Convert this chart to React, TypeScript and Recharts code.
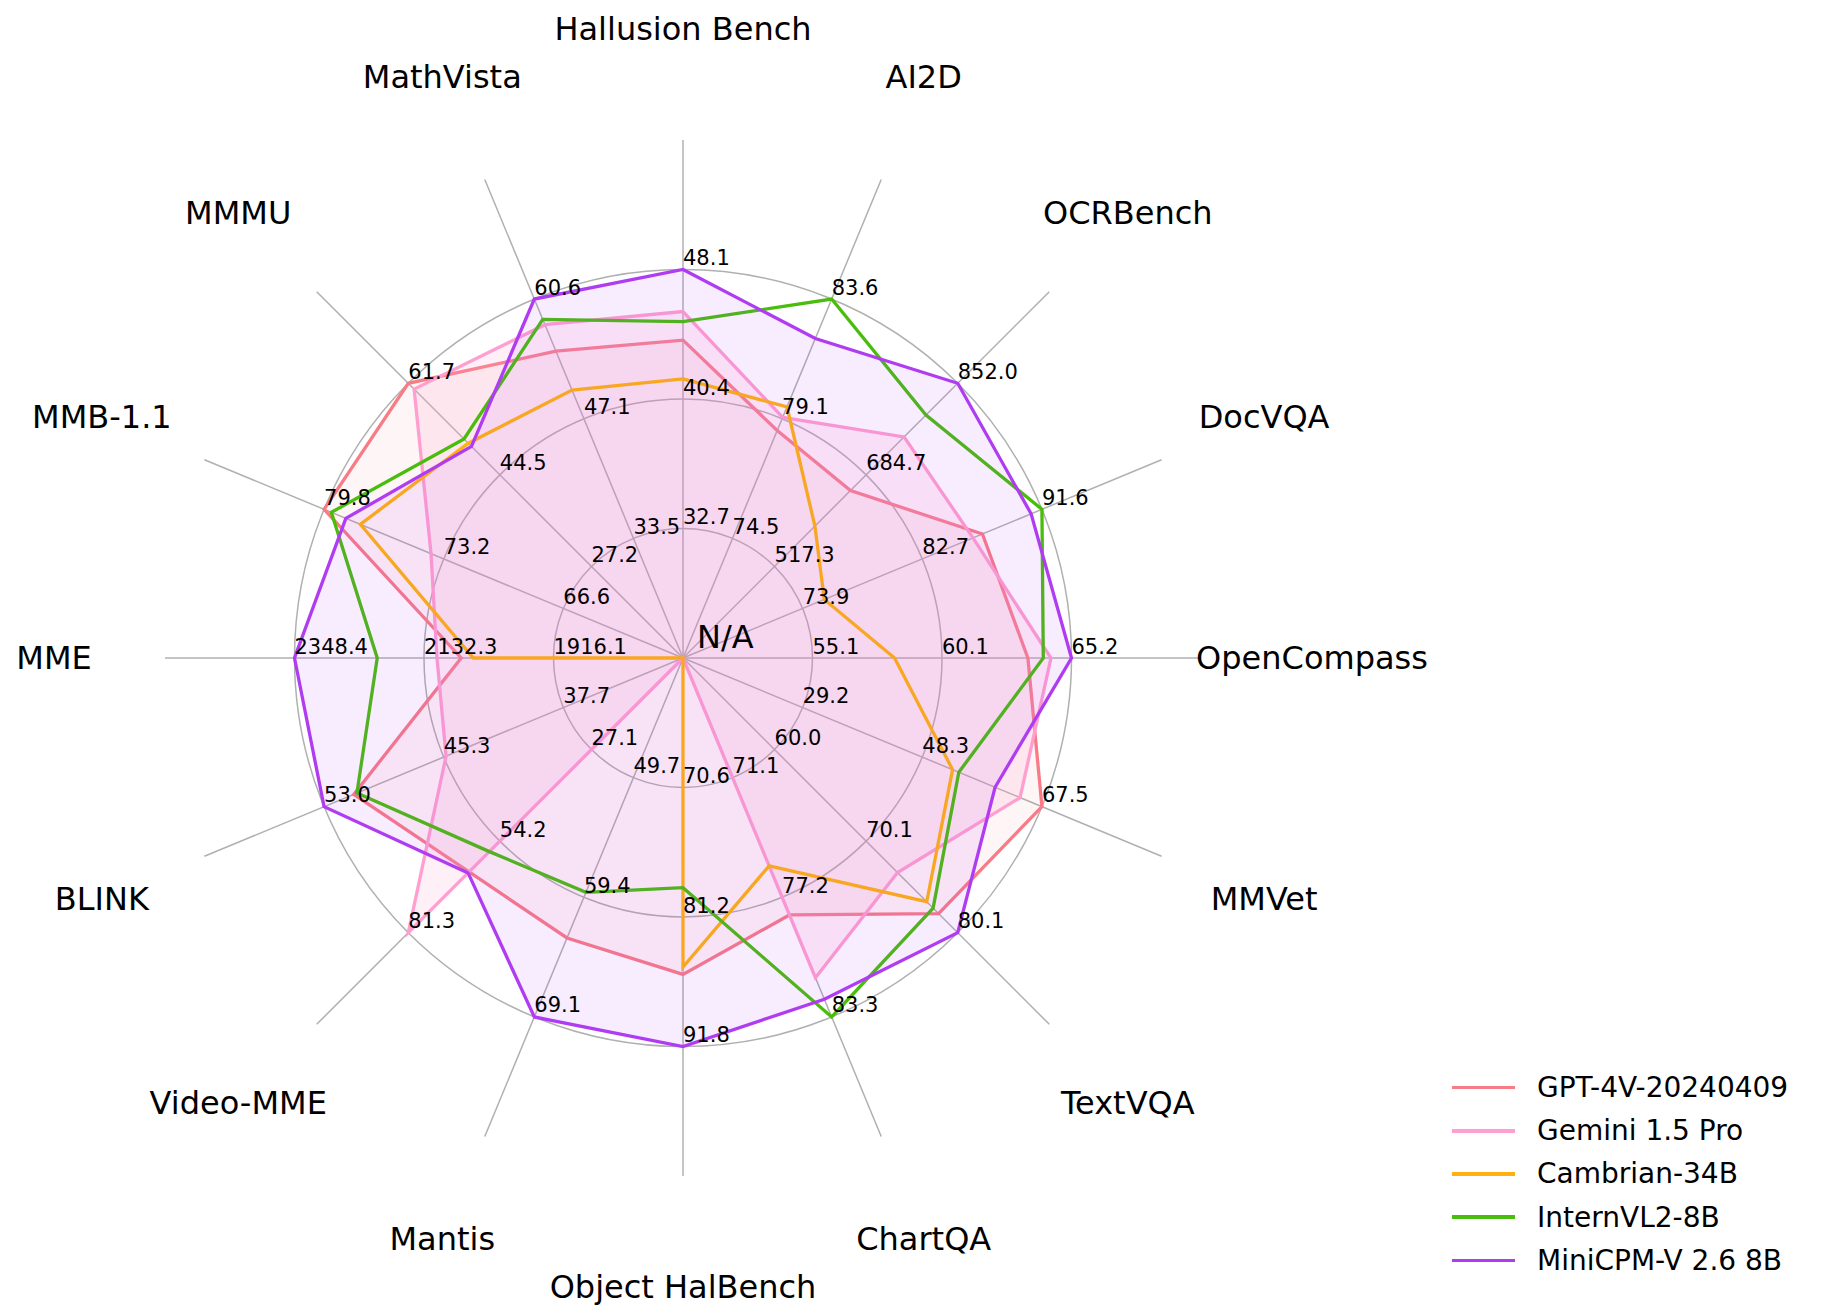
import React from "react";
import {
  RadarChart,
  Radar,
  PolarGrid,
  PolarAngleAxis,
  PolarRadiusAxis,
  Legend,
} from "recharts";

// spokes clockwise from the top
const categories = [
  "Hallusion Bench",
  "AI2D",
  "OCRBench",
  "DocVQA",
  "OpenCompass",
  "MMVet",
  "TextVQA",
  "ChartQA",
  "Object HalBench",
  "Mantis",
  "Video-MME",
  "BLINK",
  "MME",
  "MMB-1.1",
  "MMMU",
  "MathVista",
];

// labels printed on rings 1, 2 and 3 of every spoke
const axisTicks = [
  ["32.7", "40.4", "48.1"],
  ["74.5", "79.1", "83.6"],
  ["517.3", "684.7", "852.0"],
  ["73.9", "82.7", "91.6"],
  ["55.1", "60.1", "65.2"],
  ["29.2", "48.3", "67.5"],
  ["60.0", "70.1", "80.1"],
  ["71.1", "77.2", "83.3"],
  ["70.6", "81.2", "91.8"],
  ["49.7", "59.4", "69.1"],
  ["27.1", "54.2", "81.3"],
  ["37.7", "45.3", "53.0"],
  ["1916.1", "2132.3", "2348.4"],
  ["66.6", "73.2", "79.8"],
  ["27.2", "44.5", "61.7"],
  ["33.5", "47.1", "60.6"],
];

// scores, same order as categories (null = N/A)
const gpt4v = [43.9, 78.6, 656, 87.2, 63.5, 67.5, 78.0, 78.1, 85.9, 62.7, 63.3, 51.1, 2070.2, 79.8, 61.7, 54.7];
const gemini = [45.6, 79.1, 754, 86.5, 64.4, 64.0, 73.5, 81.3, null, null, 81.3, 45.2, 2110.6, 73.9, 60.6, 57.7];
const cambrian = [41.6, 79.5, 591, 75.5, 58.3, 53.2, 76.7, 75.6, 85.3, null, null, null, 2049.9, 77.8, 50.4, 50.3];
const internvl = [45.0, 83.6, 794, 91.6, 64.1, 54.2, 77.4, 83.3, 78.8, 59.0, 57.3, 50.9, 2210.3, 79.4, 51.2, 58.3];
const minicpm = [48.1, 82.1, 852, 90.8, 65.2, 60.0, 80.1, 82.4, 91.8, 69.1, 63.6, 53.0, 2348.4, 78.6, 49.8, 60.6];

const series = [
  { key: "gpt", name: "GPT-4V-20240409", values: gpt4v, color: "#F87C87", fillOpacity: 0.08 },
  { key: "gemini", name: "Gemini 1.5 Pro", values: gemini, color: "#FF9FD0", fillOpacity: 0.17 },
  { key: "cambrian", name: "Cambrian-34B", values: cambrian, color: "#FFB20F", fillOpacity: 0 },
  { key: "internvl", name: "InternVL2-8B", values: internvl, color: "#48BD0C", fillOpacity: 0 },
  { key: "minicpm", name: "MiniCPM-V 2.6 8B", values: minicpm, color: "#B03CF2", fillOpacity: 0.09 },
];

const FONT = "DejaVu Sans";
const CX = 683;
const CY = 658;

// each spoke has its own scale: first tick label on ring 1, last on ring 3
const toRing = (i: number, v: number | null) => {
  if (v == null) return 0;
  const lo = parseFloat(axisTicks[i][0]);
  const hi = parseFloat(axisTicks[i][2]);
  return 1 + (2 * (v - lo)) / (hi - lo);
};

const data = categories.map((axis, i) => {
  const row: any = { axis };
  series.forEach((s) => {
    row[s.key] = toRing(i, s.values[i]);
  });
  return row;
});

const CategoryTick = (props: any) => {
  const { x, y, payload } = props;
  return (
    <text
      x={x}
      y={y}
      textAnchor="middle"
      dominantBaseline="central"
      fontSize={32}
      fontFamily={FONT}
      fill="#000"
    >
      {payload.value}
    </text>
  );
};

const ValueTick = (props: any) => {
  const { x, y, payload, labels } = props;
  return (
    <text x={x} y={y - 4.5} textAnchor="start" fontSize={21} fontFamily={FONT} fill="#000">
      {labels[Math.round(payload.value) - 1]}
    </text>
  );
};

const LegendBox = () => (
  <ul style={{ listStyle: "none", margin: 0, padding: 0 }}>
    {series.map((s) => (
      <li
        key={s.key}
        style={{ display: "flex", alignItems: "center", height: 43.2, fontFamily: FONT, fontSize: 28 }}
      >
        <span
          style={{
            display: "inline-block",
            width: 63,
            height: 3.5,
            backgroundColor: s.color,
            marginRight: 22,
          }}
        />
        <span style={{ color: "#000" }}>{s.name}</span>
      </li>
    ))}
  </ul>
);

export default function App() {
  return (
    <div style={{ position: "absolute", left: 0, top: 0, width: 1822, height: 1314, background: "#fff" }}>
      <RadarChart
        width={1822}
        height={1314}
        data={data}
        cx={CX}
        cy={CY}
        outerRadius={518}
        margin={{ top: 0, right: 0, bottom: 0, left: 0 }}
      >
        <PolarGrid gridType="circle" polarRadius={[129.5, 259, 388.5]} stroke="#b0b0b0" strokeWidth={1.5} />
        <PolarAngleAxis dataKey="axis" tickLine={false} axisLine={false} tickSize={111} tick={<CategoryTick />} />
        <PolarRadiusAxis domain={[0, 4]} type="number" tick={false} axisLine={false} />
        {series.map((s) => (
          <Radar
            key={s.key}
            dataKey={s.key}
            name={s.name}
            stroke={s.color}
            strokeWidth={3.3}
            fill={s.color}
            fillOpacity={s.fillOpacity}
            dot={false}
            isAnimationActive={false}
          />
        ))}
        {categories.map((c, i) => (
          <PolarRadiusAxis
            key={c}
            radiusAxisId={`v${i}`}
            angle={90 - i * 22.5}
            domain={[0, 4]}
            type="number"
            allowDataOverflow
            ticks={[1, 2, 3]}
            axisLine={false}
            tickLine={false}
            tick={(p: any) => <ValueTick {...p} labels={axisTicks[i]} />}
          />
        ))}
        <Legend
          layout="vertical"
          align="right"
          verticalAlign="bottom"
          content={<LegendBox />}
          wrapperStyle={{ position: "absolute", left: 1452, top: 1066, width: 370, bottom: "auto", right: "auto" }}
        />
      </RadarChart>
      <svg
        width={1822}
        height={1314}
        style={{ position: "absolute", left: 0, top: 0, pointerEvents: "none" }}
      >
        <text x={CX + 14} y={CY - 10} fontSize={32} fontFamily={FONT} fill="#000">
          N/A
        </text>
      </svg>
    </div>
  );
}
